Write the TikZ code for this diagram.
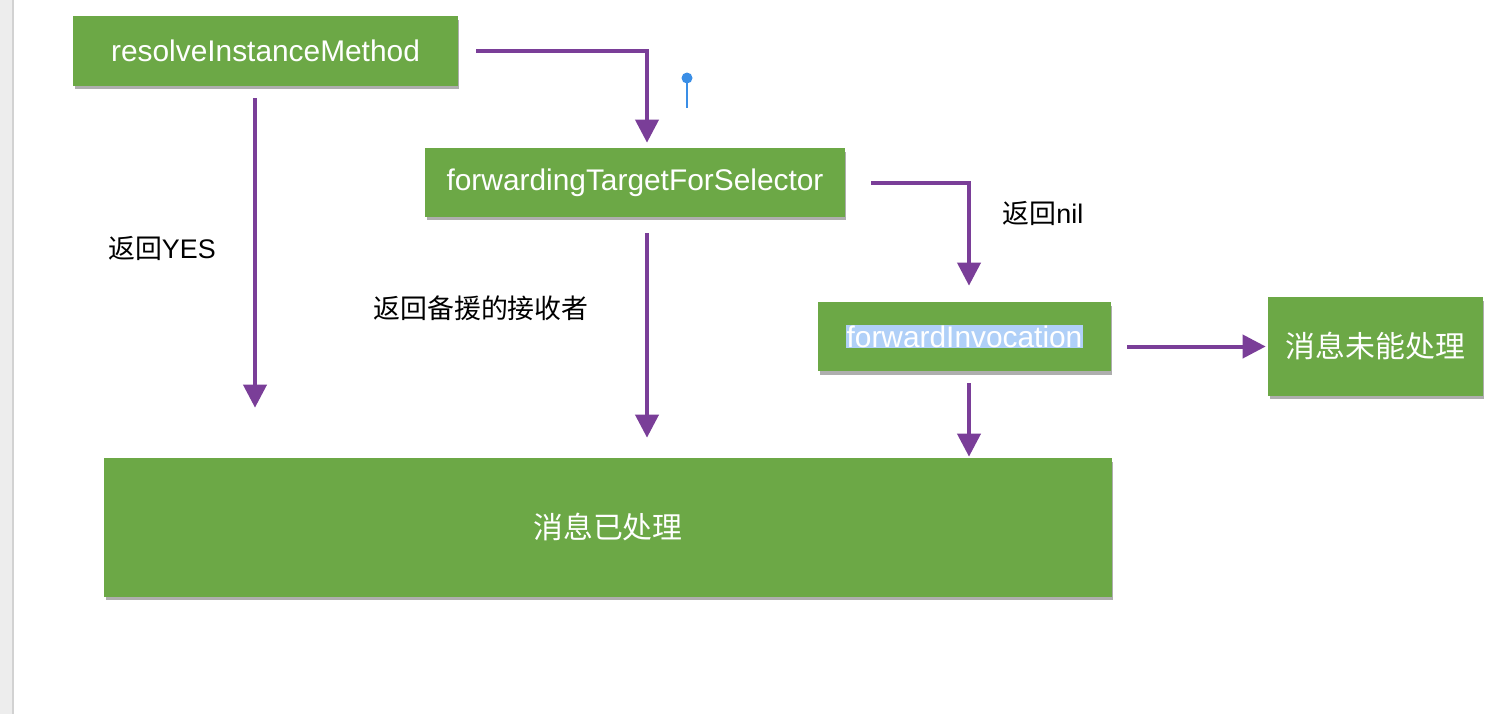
\documentclass[tikz,border=0pt]{standalone}
\usepackage{fontspec}
\setmainfont{Liberation Sans}
\newfontfamily\cjk{Noto Sans CJK SC}
\usepackage{xcolor}
\usetikzlibrary{positioning,calc,arrows.meta,shadows}
\definecolor{grass}{RGB}{108,168,70}
\definecolor{flowpurple}{RGB}{122,62,152}
\definecolor{pinblue}{RGB}{58,142,230}
\definecolor{selhl}{RGB}{176,208,248}

\begin{document}
\begin{tikzpicture}[x=0.02cm,y=-0.02cm]
  % Styles local to this figure.
  \tikzset{
    box/.style={fill=grass,text=white,inner sep=0pt,
      font=\fontsize{17}{20}\selectfont,
      drop shadow={shadow xshift=0.03cm,shadow yshift=-0.07cm,opacity=0.45,fill=black!70}},
    lbl/.style={font=\fontsize{15.3}{18}\selectfont,inner sep=0pt},
    flow/.style={draw=flowpurple,line width=0.08cm,
      -{Triangle[length=0.46cm,width=0.46cm]}}
  }
  \useasboundingbox (0,0) rectangle (1498,714);

  % Window edge on the left.
  \fill[gray!14] (0,0) rectangle (12,714);
  \draw[gray!35,line width=0.04cm] (13,0) -- (13,714);

  % Method boxes.
  \node[box,minimum width=7.7cm,minimum height=1.4cm] (rim) at (265.5,51) {resolveInstanceMethod};
  \node[box,minimum width=8.4cm,minimum height=1.38cm] (ftfs) at (635,182.5) {forwardingTargetForSelector};
  \node[box,minimum width=5.86cm,minimum height=1.38cm] (fi) at (964.5,336.5)
    {\setlength{\fboxsep}{0.5pt}\colorbox{selhl}{forwardInvocation}};
  \node[box,minimum width=4.3cm,minimum height=1.98cm] (unh) at (1375.5,346.5) {\cjk 消息未能处理};
  \node[box,minimum width=20.16cm,minimum height=2.78cm] (done) at (608,527.5) {\cjk 消息已处理};

  % Connectors.
  \draw[flow,shorten <=0.36cm,shorten >=0.1cm]
    (rim.east) -| ($(ftfs.north)+(12,0)$);
  \draw[flow,shorten <=0.24cm,shorten >=1cm]
    ($(rim.south)+(-10.5,0)$) coordinate (a) -- (a |- done.north);
  \draw[flow,shorten <=0.32cm,shorten >=0.4cm]
    ($(ftfs.south)+(12,0)$) coordinate (b) -- (b |- done.north);
  \draw[flow,shorten <=0.52cm,shorten >=0.32cm]
    (ftfs.east) -| ($(fi.north)+(4.5,0)$);
  \draw[flow,shorten <=0.24cm,shorten >=0.02cm]
    ($(fi.south)+(4.5,0)$) coordinate (c) -- (c |- done.north);
  \draw[flow,shorten <=0.32cm,shorten >=0.04cm]
    (fi.east |- unh.west) -- (unh.west);

  % Labels on the connectors.
  \node[lbl] (yes) at (162,248) {{\cjk 返回}YES};
  \node[lbl] (backup) at (481,308) {\cjk 返回备援的接收者};
  \node[lbl] (nil) at (1043,213) {{\cjk 返回}nil};

  % Blue pin.
  \draw[pinblue,line width=0.04cm] (687,78) -- (687,108);
  \fill[pinblue] (687,78) circle (0.11cm);
\end{tikzpicture}
\end{document}
